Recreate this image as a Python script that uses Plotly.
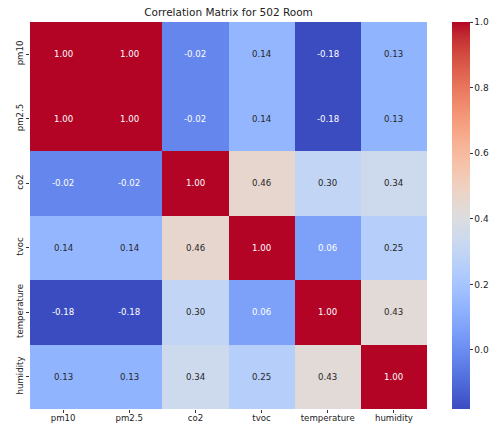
import plotly.graph_objects as go

labels = ["pm10", "pm2.5", "co2", "tvoc", "temperature", "humidity"]
corr = [
    [1.00, 1.00, -0.02, 0.14, -0.18, 0.13],
    [1.00, 1.00, -0.02, 0.14, -0.18, 0.13],
    [-0.02, -0.02, 1.00, 0.46, 0.30, 0.34],
    [0.14, 0.14, 0.46, 1.00, 0.06, 0.25],
    [-0.18, -0.18, 0.30, 0.06, 1.00, 0.43],
    [0.13, 0.13, 0.34, 0.25, 0.43, 1.00],
]
cbar_ticks = [0.0, 0.2, 0.4, 0.6, 0.8, 1.0]
title = "Correlation Matrix for 502 Room"

coolwarm = [
    (59, 76, 192), (68, 90, 204), (77, 104, 215), (87, 117, 225), (98, 130, 234),
    (108, 142, 241), (119, 154, 247), (130, 165, 251), (141, 176, 254), (152, 185, 255),
    (163, 194, 255), (174, 201, 253), (184, 208, 249), (194, 213, 244), (204, 217, 238),
    (213, 219, 230), (221, 221, 221), (229, 216, 209), (236, 211, 197), (241, 204, 185),
    (245, 196, 173), (247, 187, 160), (247, 177, 148), (247, 166, 135), (244, 154, 123),
    (241, 141, 111), (236, 127, 99), (229, 112, 88), (222, 96, 77), (213, 80, 66),
    (203, 62, 56), (192, 40, 47), (180, 4, 38),
]
n = len(coolwarm) - 1
colorscale = [[i / n, "rgb(%d,%d,%d)" % c] for i, c in enumerate(coolwarm)]

zmin = min(min(r) for r in corr)
zmax = max(max(r) for r in corr)


def color_at(v):
    t = (v - zmin) / (zmax - zmin)
    t = max(0.0, min(1.0, t))
    p = t * n
    i = min(int(p), n - 1)
    f = p - i
    a, b = coolwarm[i], coolwarm[i + 1]
    return [(a[k] + (b[k] - a[k]) * f) / 255.0 for k in range(3)]


def lum(rgb):
    out = []
    for c in rgb:
        out.append(c / 12.92 if c <= 0.03928 else ((c + 0.055) / 1.055) ** 2.4)
    return 0.2126 * out[0] + 0.7152 * out[1] + 0.0722 * out[2]


fig = go.Figure(
    go.Heatmap(
        z=corr,
        x=labels,
        y=labels,
        colorscale=colorscale,
        zmin=zmin,
        zmax=zmax,
        xgap=0,
        ygap=0,
        colorbar=dict(
            x=1.063,
            xanchor="left",
            y=0.5,
            yanchor="middle",
            len=1.0,
            lenmode="fraction",
            thickness=18,
            xpad=0,
            ypad=0,
            outlinewidth=0,
            ticks="outside",
            ticklen=3,
            tickcolor="#333",
            tickvals=cbar_ticks,
            ticktext=["%.1f" % v for v in cbar_ticks],
            tickfont=dict(size=9, color="#222"),
        ),
    )
)

annotations = []
for i, row in enumerate(corr):
    for j, v in enumerate(row):
        col = "white" if lum(color_at(v)) <= 0.408 else "#262626"
        annotations.append(
            dict(
                x=labels[j],
                y=labels[i],
                text="%.2f" % v,
                showarrow=False,
                font=dict(size=8.6, color=col),
            )
        )

W, H = 492, 425
fig.update_layout(
    width=W,
    height=H,
    margin=dict(l=30, r=65, t=22, b=16, autoexpand=False),
    paper_bgcolor="white",
    plot_bgcolor="white",
    font=dict(family="DejaVu Sans", color="#222"),
    title=dict(text=title, x=(30 + 427) / 2 / W, xanchor="center", y=1 - 12 / H, yanchor="middle",
               font=dict(size=10.5, color="#222")),
    annotations=annotations,
)
fig.update_xaxes(
    showgrid=False, zeroline=False, ticks="outside", ticklen=3, tickcolor="#333",
    tickfont=dict(size=8.6), tickangle=0, showline=False, ticklabelstandoff=-2,
)
fig.update_yaxes(
    showgrid=False, zeroline=False, ticks="outside", ticklen=3, tickcolor="#333",
    tickfont=dict(size=8.6), tickangle=-90, autorange="reversed", showline=False,
)

fig.write_html(
    "out.html",
    config={"displayModeBar": False},
    post_script="document.body.style.margin='0';document.body.style.overflow='hidden';",
)
